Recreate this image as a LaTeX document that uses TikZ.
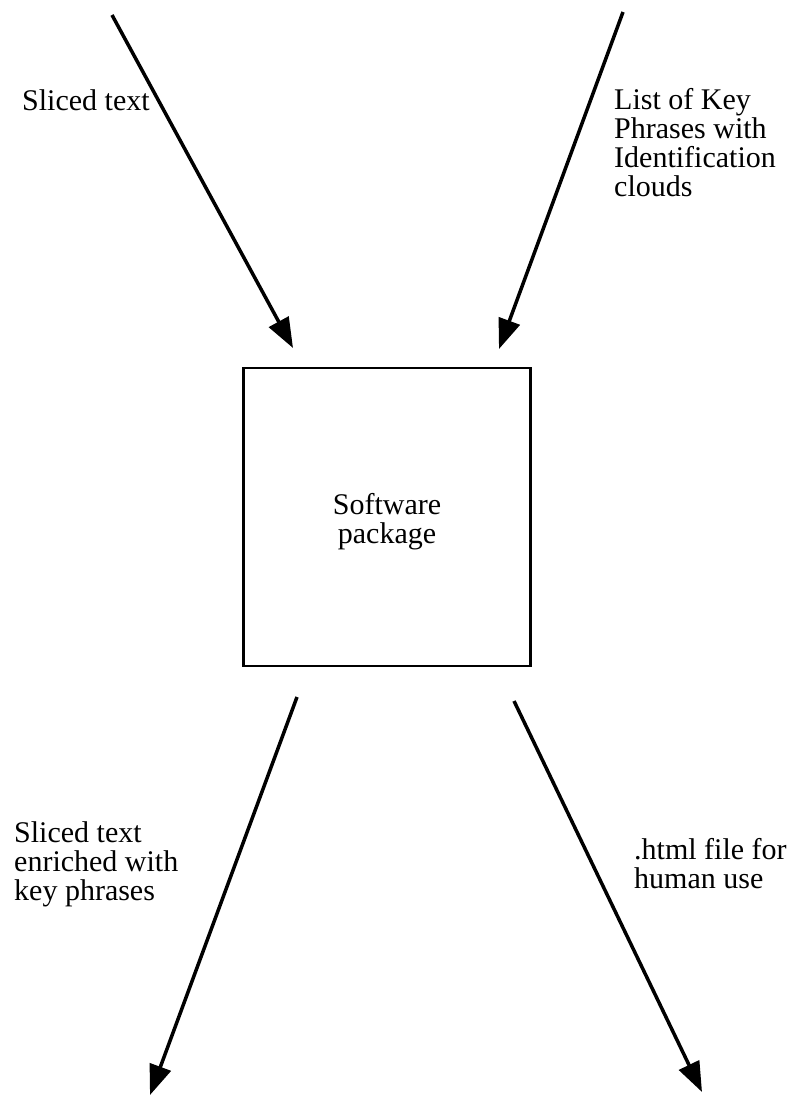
\documentclass[tikz,border=0pt]{standalone}
\usepackage{fontspec}
\setmainfont{Liberation Serif}
\usetikzlibrary{arrows.meta}
\begin{document}
\begin{tikzpicture}[x=1pt,y=-1pt,
  flow/.style={line width=3.5pt,-{Triangle[length=30pt,width=22pt]}},
  label/.style={anchor=base west,align=left,inner sep=0pt,
    font=\fontsize{30}{29}\selectfont},
  pkg/.style={draw,line width=2.5pt,minimum width=287pt,minimum height=298pt,
    inner sep=0pt},
  pkgtext/.style={align=center,inner sep=0pt,font=\fontsize{30}{29}\selectfont}]
\useasboundingbox (0,0) rectangle (803,1095);

% central processing box and its caption
\node[pkg] (sw) at (387,517) {};
\node[pkgtext] (swl) at (387,522) {Software\\package};

% connector end points
\coordinate (inA) at (112,15);
\coordinate (tipA) at (293,348);
\coordinate (inB) at (623,12);
\coordinate (tipB) at (499,349);
\coordinate (outA) at (297,697);
\coordinate (endA) at (150,1095);
\coordinate (outB) at (514,701);
\coordinate (endB) at (702,1092);

\draw[flow] (inA) -- (tipA);
\draw[flow] (inB) -- (tipB);
\draw[flow] (outA) -- (endA);
\draw[flow] (outB) -- (endB);

% labels (placed by the baseline of their last line)
\node[label] (l1) at (22,110) {Sliced text};
\node[label] (l2) at (614,196) {List of Key\\Phrases with\\Identification\\clouds};
\node[label] (l3) at (14,900) {Sliced text\\enriched with\\key phrases};
\node[label] (l4) at (634,888) {.html file for\\human use};
\end{tikzpicture}
\end{document}
